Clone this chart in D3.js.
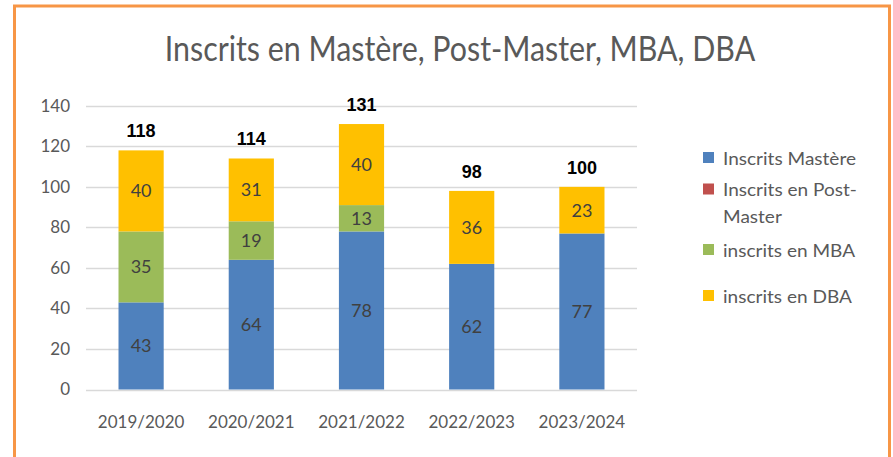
<!DOCTYPE html>
<html>
<head>
<meta charset="utf-8">
<script src="https://cdn.jsdelivr.net/npm/d3@7"></script>
<style>
  html, body { margin: 0; padding: 0; background: #ffffff; }
  svg { display: block; }
</style>
</head>
<body>
<svg id="chart" width="893" height="457"></svg>
<script>
const categories = ["2019/2020", "2020/2021", "2021/2022", "2022/2023", "2023/2024"];
const seriesNames = ["Inscrits Mastère", "Inscrits en Post-Master", "inscrits en MBA", "inscrits en DBA"];
const mastere = [43, 64, 78, 62, 77];
const postMaster = [0, 0, 0, 0, 0];
const mba = [35, 19, 13, 0, 0];
const dba = [40, 31, 40, 36, 23];
const totals = [118, 114, 131, 98, 100];
const yTicks = [0, 20, 40, 60, 80, 100, 120, 140];
const colors = ["#4F81BD", "#C0504D", "#9BBB59", "#FFC000"];
const titleText = "Inscrits en Mastère, Post-Master, MBA, DBA";
const legendLines = [["Inscrits Mastère"], ["Inscrits en Post-", "Master"], ["inscrits en MBA"], ["inscrits en DBA"]];

const svg = d3.select("#chart");
const font = "Lato, 'Open Sans', sans-serif";

// frame
svg.append("rect").attr("x", 14.5).attr("y", 6).attr("width", 875).attr("height", 470)
  .attr("fill", "none").attr("stroke", "#F79646").attr("stroke-width", 3);

const seriesData = [mastere, postMaster, mba, dba];
const rows = categories.map((c, i) => {
  const r = { cat: c };
  seriesNames.forEach((s, k) => r[s] = seriesData[k][i]);
  return r;
});

const x = d3.scaleBand().domain(categories).range([86, 637]).paddingInner(0.59).paddingOuter(0.295);
const y = d3.scaleLinear().domain([0, 140]).range([389.5, 105.8]);

// gridlines
svg.append("g").selectAll("line").data(yTicks).join("line")
  .attr("x1", 86).attr("x2", 637)
  .attr("y1", d => Math.round(y(d)) + 0.5).attr("y2", d => Math.round(y(d)) + 0.5)
  .attr("stroke", "#D9D9D9").attr("stroke-width", 1.5);

// y axis labels
const yAxis = d3.axisLeft(y).tickValues(yTicks).tickSize(0).tickPadding(0);
const yg = svg.append("g").attr("transform", "translate(70,0)").call(yAxis);
yg.select(".domain").remove();
yg.selectAll("text").attr("font-family", font).attr("font-size", 17).attr("fill", "#595959");

// x axis labels
const xAxis = d3.axisBottom(x).tickSize(0).tickPadding(0);
const xg = svg.append("g").attr("transform", "translate(0,416)").call(xAxis);
xg.select(".domain").remove();
xg.selectAll("text").attr("font-family", font).attr("font-size", 17).attr("fill", "#595959");

// stacked bars
const stack = d3.stack().keys(seriesNames)(rows);
const layers = svg.append("g").selectAll("g").data(stack).join("g")
  .attr("fill", (d, i) => colors[i]);
layers.selectAll("rect").data(d => d.filter(p => p[1] - p[0] > 0)).join("rect")
  .attr("x", d => x(d.data.cat))
  .attr("width", x.bandwidth())
  .attr("y", d => y(d[1]))
  .attr("height", d => y(d[0]) - y(d[1]));

// segment labels
layers.selectAll("text").data(d => d.filter(p => p[1] - p[0] > 0)).join("text")
  .attr("x", d => x(d.data.cat) + x.bandwidth() / 2)
  .attr("y", d => (y(d[0]) + y(d[1])) / 2)
  .attr("dy", "0.36em")
  .attr("text-anchor", "middle")
  .attr("font-family", font).attr("font-size", 18).attr("fill", "#404040")
  .text(d => d[1] - d[0]);

// totals
svg.append("g").selectAll("text").data(categories).join("text")
  .attr("x", d => x(d) + x.bandwidth() / 2)
  .attr("y", (d, i) => y(totals[i]) - 13)
  .attr("text-anchor", "middle")
  .attr("font-family", "'Liberation Sans', Arial, sans-serif").attr("font-weight", "bold")
  .attr("font-size", 18).attr("fill", "#000000")
  .text((d, i) => totals[i]);

// title
svg.append("text").attr("transform", "translate(460,61) scale(0.893,1)")
  .attr("x", 0).attr("y", 0).attr("text-anchor", "middle")
  .attr("font-family", font).attr("font-size", 34).attr("fill", "#595959")
  .text(titleText);

// legend
const legendY = [157.5, 189, 249.5, 295.5];
const lg = svg.append("g").selectAll("g").data(legendLines).join("g")
  .attr("transform", (d, i) => `translate(703,${legendY[i]})`);
lg.append("rect").attr("x", 0).attr("y", -5.5).attr("width", 11).attr("height", 11)
  .attr("fill", (d, i) => colors[i]);
lg.each(function(lines) {
  const t = d3.select(this).append("text")
    .attr("transform", "translate(20,0) scale(1.12,1)")
    .attr("font-family", font).attr("font-size", 17).attr("fill", "#595959");
  lines.forEach((ln, j) => {
    t.append("tspan").attr("x", 0).attr("y", 7 + j * 27).text(ln);
  });
});
</script>
</body>
</html>
